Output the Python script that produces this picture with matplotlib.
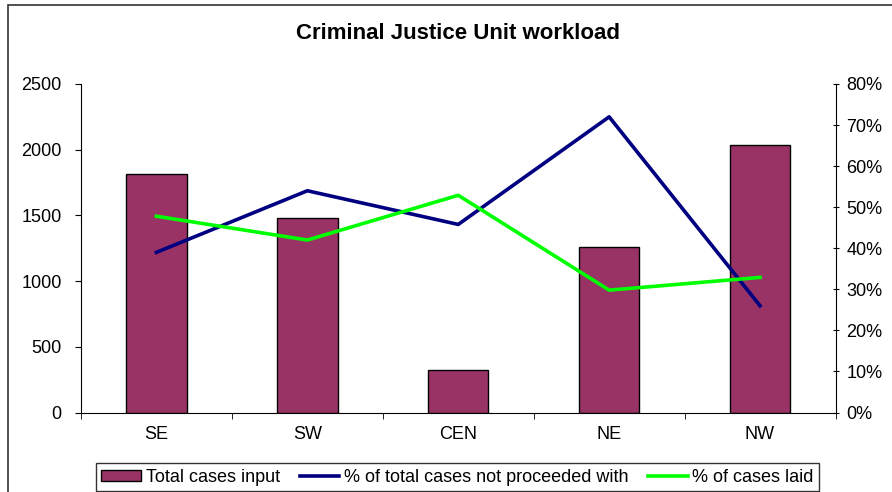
import numpy as np
import matplotlib.pyplot as plt
from matplotlib.patches import Rectangle
from matplotlib.ticker import FuncFormatter

plt.rcParams['font.family'] = ['Liberation Sans', 'DejaVu Sans']

regions = ['SE', 'SW', 'CEN', 'NE', 'NW']
total_cases = [1815, 1480, 320, 1258, 2038]
not_proceeded = [39, 54, 45.8, 72, 26]   # percent
cases_laid = [47.8, 42, 52.9, 29.8, 32.9]  # percent

W, H = 892, 492
fig = plt.figure(figsize=(W / 100, H / 100), dpi=100)

# outer chart frame (cut off at right/bottom like the original)
fig.patches.append(Rectangle((8 / W, -0.1), 1.2, 1 - 5 / H + 0.1,
                             transform=fig.transFigure, fill=False,
                             edgecolor='#333333', linewidth=1.2))

ax = fig.add_axes([81 / W, 1 - 412.5 / H, (835.5 - 81) / W, (412.5 - 84) / H])
x = np.arange(len(regions))
ax.bar(x, total_cases, width=0.4, color='#993366', edgecolor='black', linewidth=1,
       label='Total cases input', zorder=2)
ax.set_xlim(-0.5, len(regions) - 0.5)
ax.set_ylim(0, 2500)
ax.set_yticks(range(0, 2501, 500))
ax.set_xticks(x)
ax.set_xticklabels(regions)
ax.set_xticks(np.arange(-0.5, len(regions), 1), minor=True)
ax.tick_params(axis='x', which='major', length=0, pad=10, labelsize=13)
ax.tick_params(axis='x', which='minor', length=4, direction='out')
ax.tick_params(axis='y', length=4, direction='out', labelsize=13, pad=10)
for s in ['top', 'right']:
    ax.spines[s].set_visible(False)

ax2 = ax.twinx()
l1, = ax2.plot(x, not_proceeded, color='#000080', linewidth=2.6,
               label='% of total cases not proceeded with', zorder=3)
l2, = ax2.plot(x, cases_laid, color='#00FF00', linewidth=2.6,
               label='% of cases laid', zorder=3)
ax2.set_ylim(0, 80)
ax2.set_yticks(range(0, 81, 10))
ax2.yaxis.set_major_formatter(FuncFormatter(lambda v, p: f'{int(v)}%'))
ax2.tick_params(axis='y', length=4, direction='inout', labelsize=13, pad=6)
for s in ['top', 'left', 'bottom']:
    ax2.spines[s].set_visible(False)

fig.text((81 + 835.5) / 2 / W, 1 - 33 / H, 'Criminal Justice Unit workload',
         ha='center', va='center', fontsize=16, fontweight='bold')

h1, lab1 = ax.get_legend_handles_labels()
leg = fig.legend(h1 + [l1, l2], lab1 + [l1.get_label(), l2.get_label()],
                 loc='center', bbox_to_anchor=(457.5 / W, 1 - 477 / H), ncol=3,
                 frameon=True, fancybox=False, edgecolor='black', fontsize=13,
                 handlelength=2.2, handleheight=0.55, handletextpad=0.25,
                 columnspacing=1.1, borderpad=0.3, borderaxespad=0)
leg.get_frame().set_linewidth(1)

fig.savefig('out.png', dpi=100)
